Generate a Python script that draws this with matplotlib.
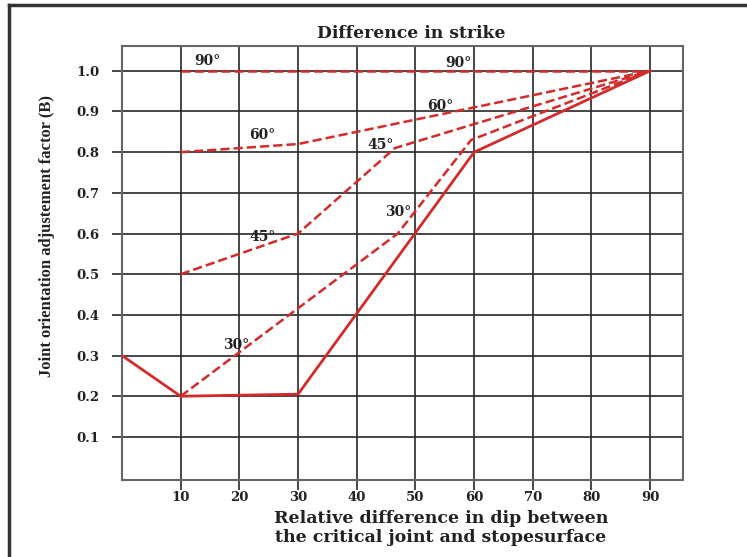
import matplotlib
matplotlib.use("Agg")
import matplotlib.pyplot as plt
from matplotlib.lines import Line2D

# curves (x = dip difference, y = factor B)
solid_x = [0, 10, 30, 60, 90]
solid_y = [0.3, 0.2, 0.205, 0.8, 1.0]
s30_x = [10, 47, 59.5, 90]
s30_y = [0.2, 0.6, 0.83, 1.0]
s45_x = [10, 30, 46.5, 90]
s45_y = [0.5, 0.6, 0.81, 1.0]
s60_x = [10, 30, 90]
s60_y = [0.8, 0.82, 1.0]
s90_x = [10, 90]
s90_y = [1.0, 1.0]

angle_labels = ["90°", "90°", "60°", "60°", "45°", "45°", "30°", "30°"]
label_x = [14.5, 57.3, 54.3, 23.9, 44, 24, 47.1, 19.5]
label_y = [1.025, 1.02, 0.914, 0.843, 0.818, 0.592, 0.654, 0.327]

xticks = [10, 20, 30, 40, 50, 60, 70, 80, 90]
yticks = [0.1, 0.2, 0.3, 0.4, 0.5, 0.6, 0.7, 0.8, 0.9, 1.0]

red = "#d42a2a"
grid_c = "#262626"
serif = "DejaVu Serif"

fig = plt.figure(figsize=(7.47, 5.57), dpi=100)
ax = fig.add_axes([0.1633, 0.1382, 0.751, 0.7792])

ax.plot(solid_x, solid_y, color=red, lw=2.0, zorder=3)
for xs, ys in [(s30_x, s30_y), (s45_x, s45_y), (s60_x, s60_y), (s90_x, s90_y)]:
    ax.plot(xs, ys, color=red, lw=1.8, ls="--", zorder=3)

for t, x, y in zip(angle_labels, label_x, label_y):
    ax.text(x, y, t, ha="center", va="center", fontsize=10,
            family=serif, weight="bold", color="#222222", zorder=4)

ax.set_xlim(0, 95.6)
ax.set_ylim(-0.006, 1.061)
ax.set_xticks(xticks)
ax.set_xticklabels([str(v) for v in xticks])
ax.set_yticks(yticks)
ax.set_yticklabels([f"{v:.1f}" for v in yticks])
ax.grid(True, color=grid_c, lw=1.2, zorder=1)
ax.set_axisbelow(True)
ax.tick_params(axis="x", direction="out", length=7, width=1.2, color=grid_c, pad=1)
ax.tick_params(axis="y", direction="out", length=7, width=1.2, color=grid_c, pad=9)
for lab in ax.get_xticklabels() + ax.get_yticklabels():
    lab.set_family(serif)
    lab.set_weight("bold")
    lab.set_fontsize(9.5)
    lab.set_color("#222222")
for sp in ax.spines.values():
    sp.set_color("#666666")
    sp.set_linewidth(1.5)

fig.text(0.551, 0.939, "Difference in strike", ha="center", va="center",
         family=serif, weight="bold", fontsize=12.3, color="#222222")
fig.text(0.59, 0.052, "Relative difference in dip between\nthe critical joint and stopesurface",
         ha="center", va="center", family=serif, weight="bold", fontsize=12.5,
         linespacing=1.1, color="#222222")
fig.text(0.063, 0.576, "Joint orientation adjustement factor (B)", rotation=90,
         ha="center", va="center", family="Liberation Serif", weight="bold",
         fontsize=12, color="#222222")

# page frame (left and top edges)
fig.add_artist(Line2D([0.012, 0.012], [0, 0.991], transform=fig.transFigure,
                      color="#333333", lw=2.5))
fig.add_artist(Line2D([0.012, 1.0], [0.991, 0.991], transform=fig.transFigure,
                      color="#333333", lw=2.5))

fig.savefig("out.png", dpi=100)
